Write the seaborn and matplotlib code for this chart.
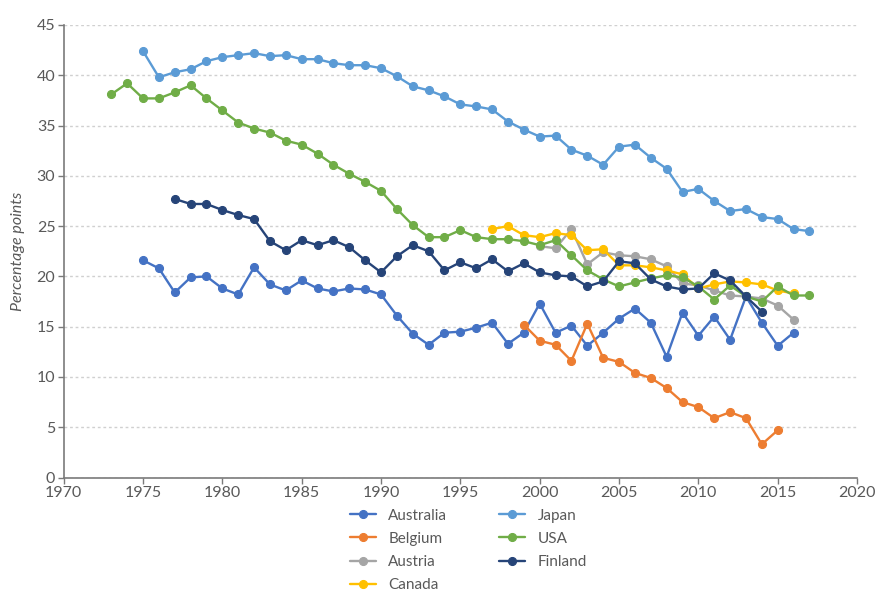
import numpy as np
import pandas as pd
import matplotlib
matplotlib.use("Agg")
import matplotlib.pyplot as plt
import seaborn as sns

# data
australia_years = list(range(1975, 2017))
australia = [21.6, 20.8, 18.4, 19.9, 20.0, 18.8, 18.2, 20.9, 19.2, 18.6,
             19.6, 18.8, 18.5, 18.8, 18.7, 18.2, 16.1, 14.3, 13.2, 14.4,
             14.5, 14.9, 15.4, 13.3, 14.4, 17.3, 14.4, 15.1, 13.1, 14.4,
             15.8, 16.8, 15.4, 12.0, 16.4, 14.1, 16.0, 13.7, 18.0, 15.4,
             13.1, 14.4]
belgium_years = list(range(1999, 2016))
belgium = [15.2, 13.6, 13.2, 11.6, 15.3, 11.9, 11.5, 10.4, 9.9, 8.9,
           7.5, 7.0, 5.9, 6.5, 5.9, 3.3, 4.7]
austria_years = list(range(2000, 2017))
austria = [23.0, 22.8, 24.7, 21.2, 22.4, 22.1, 22.0, 21.7, 21.0, 19.3,
           19.1, 18.6, 18.1, 18.0, 17.8, 17.1, 15.7]
canada_years = list(range(1997, 2017))
canada = [24.7, 25.0, 24.1, 23.9, 24.3, 24.1, 22.6, 22.7, 21.1, 21.1,
          20.9, 20.6, 20.2, 18.8, 19.2, 19.5, 19.4, 19.2, 18.6, 18.3]
japan_years = list(range(1975, 2018))
japan = [42.4, 39.8, 40.3, 40.6, 41.4, 41.8, 42.0, 42.2, 41.9, 42.0,
         41.6, 41.6, 41.2, 41.0, 41.0, 40.7, 39.9, 38.9, 38.5, 37.9,
         37.1, 36.9, 36.6, 35.4, 34.6, 33.9, 34.0, 32.6, 32.0, 31.1,
         32.9, 33.1, 31.8, 30.7, 28.4, 28.7, 27.5, 26.5, 26.7, 25.9,
         25.7, 24.7, 24.5]
usa_years = list(range(1973, 2018))
usa = [38.1, 39.2, 37.7, 37.7, 38.3, 39.0, 37.7, 36.5, 35.3, 34.7,
       34.3, 33.5, 33.1, 32.2, 31.1, 30.2, 29.4, 28.5, 26.7, 25.1,
       23.9, 23.9, 24.6, 23.9, 23.7, 23.7, 23.5, 23.1, 23.6, 22.1,
       20.6, 19.7, 19.0, 19.4, 19.8, 20.1, 19.9, 19.0, 17.7, 19.1,
       18.0, 17.5, 19.0, 18.1, 18.1]
finland_years = list(range(1977, 2015))
finland = [27.7, 27.2, 27.2, 26.6, 26.1, 25.7, 23.5, 22.6, 23.6, 23.1,
           23.6, 22.9, 21.6, 20.4, 22.0, 23.1, 22.5, 20.6, 21.4, 20.8,
           21.7, 20.5, 21.3, 20.4, 20.1, 20.0, 19.0, 19.5, 21.5, 21.3,
           19.7, 19.0, 18.7, 18.8, 20.3, 19.6, 18.0, 16.5]

series = [
    ("Australia", australia_years, australia, "#4472C4"),
    ("Belgium", belgium_years, belgium, "#ED7D31"),
    ("Austria", austria_years, austria, "#A5A5A5"),
    ("Canada", canada_years, canada, "#FFC000"),
    ("Japan", japan_years, japan, "#5B9BD5"),
    ("USA", usa_years, usa, "#70AD47"),
    ("Finland", finland_years, finland, "#264478"),
]

sns.set_style("white")
plt.rcParams["font.family"] = ["Lato", "DejaVu Sans"]
text_col = "#595959"

fig = plt.figure(figsize=(8.82, 5.92), dpi=100)
ax = fig.add_axes([0.0722, 0.1934, 0.8995, 0.7644])

for name, yrs, vals, col in series:
    df = pd.DataFrame({"year": yrs, "value": vals})
    sns.lineplot(data=df, x="year", y="value", ax=ax, color=col, label=name,
                 marker="o", markersize=5.8, markeredgecolor=col,
                 linewidth=1.7, sort=True)

ax.set_xlim(1970, 2020)
ax.set_ylim(0, 45)
ax.set_xticks(range(1970, 2021, 5))
ax.set_yticks(range(0, 46, 5))
ax.yaxis.grid(True, color="#D0D0D0", linestyle=(0, (2, 2)), linewidth=1)
ax.xaxis.grid(False)
ax.set_axisbelow(True)
for s in ["top", "right"]:
    ax.spines[s].set_visible(False)
for s in ["left", "bottom"]:
    ax.spines[s].set_color("#7a7a7a")
    ax.spines[s].set_linewidth(1.2)
ax.tick_params(axis="both", which="major", direction="out", length=4,
               width=1, color="#7a7a7a", labelcolor=text_col, labelsize=11.5,
               left=True, bottom=True, pad=2)
ax.set_xlabel("")
ax.set_ylabel("Percentage points", fontsize=11.5, color=text_col,
              style="italic", labelpad=8)

handles, labels = ax.get_legend_handles_labels()
ax.get_legend().remove()
fig.legend(handles, labels, ncol=2, loc="upper left",
           bbox_to_anchor=(0.397, 0.141), frameon=False, fontsize=11,
           labelcolor=text_col, handlelength=1.7, handletextpad=0.8,
           columnspacing=3.4, labelspacing=0.6, borderpad=0,
           borderaxespad=0)

fig.savefig("out.png", dpi=100)
